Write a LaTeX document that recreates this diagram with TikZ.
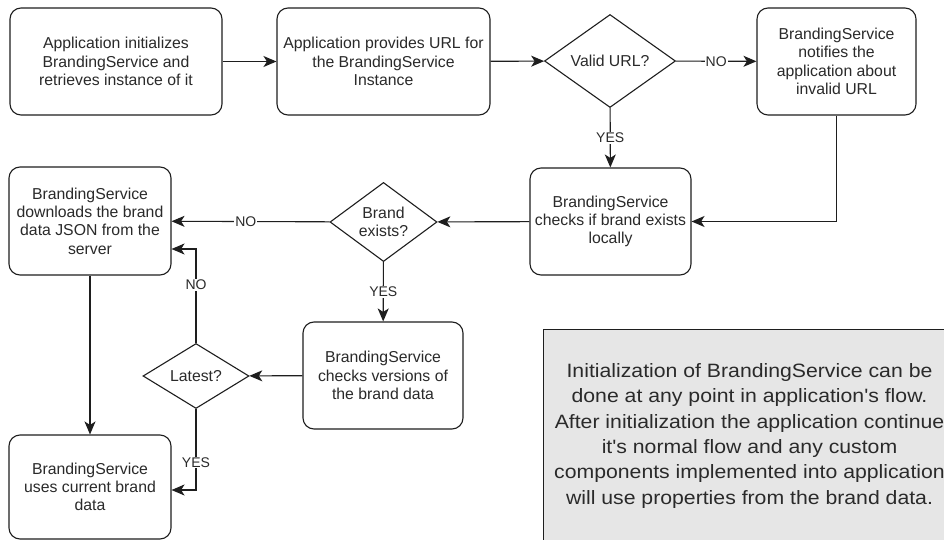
\documentclass[tikz,border=0pt]{standalone}
\usepackage{fontspec}
\setmainfont{Liberation Sans}
\newfontfamily\notefont[FakeStretch=1.1]{Liberation Sans}
\usetikzlibrary{shapes.geometric,arrows.meta}
\definecolor{ink}{HTML}{1E1E1E}
\definecolor{txt}{HTML}{2A2A2A}
\definecolor{notegray}{HTML}{E6E6E6}
\tikzset{
  stepbox/.style={draw=ink, line width=1.1pt, rounded corners=11pt, align=center,
    text=txt, font=\fontsize{15.8pt}{18.3pt}\selectfont, inner sep=0pt},
  decision/.style={draw=ink, line width=1.1pt, diamond, align=center, inner sep=0pt,
    text=txt, font=\fontsize{15.8pt}{18.3pt}\selectfont},
  flow/.style={draw=ink, line width=1.1pt, -{Stealth[length=13pt,width=11pt,inset=3.5pt]}},
  lbl/.style={fill=white, inner sep=1pt, text=txt, font=\fontsize{14pt}{16pt}\selectfont},
  notebox/.style={draw=ink, line width=1.1pt, fill=notegray},
}
\begin{document}
\begin{tikzpicture}[x=1pt,y=-1pt]
\clip (0,0) rectangle (944,540);
\useasboundingbox (0,0) rectangle (944,540);
\fill[white] (0,0) rectangle (944,540);

% nodes
\node[stepbox, minimum width=212pt, minimum height=107pt] (A) at (116,61.5)
  {Application initializes\\BrandingService and\\retrieves instance of it};
\node[stepbox, minimum width=213pt, minimum height=107pt] (B) at (383.5,61.5)
  {Application provides URL for\\the BrandingService\\Instance};
\node[decision, minimum width=131pt, minimum height=93pt] (V) at (610,61)
  {Valid URL?};
\node[stepbox, minimum width=159pt, minimum height=107pt] (C) at (836.5,61.5)
  {BrandingService\\notifies the\\application about\\invalid URL};
\node[stepbox, minimum width=161pt, minimum height=107pt] (D) at (610.5,221.5)
  {BrandingService\\checks if brand exists\\locally};
\node[decision, minimum width=107pt, minimum height=67pt] (BE) at (383.5,222)
  {Brand\\exists?};
\node[stepbox, minimum width=162pt, minimum height=108pt] (E) at (90,221)
  {BrandingService\\downloads the brand\\data JSON from the\\server};
\node[stepbox, minimum width=160pt, minimum height=107pt] (F) at (383,375.5)
  {BrandingService\\checks versions of\\the brand data};
\node[decision, minimum width=106pt, minimum height=65pt] (L) at (196,376)
  {Latest?};
\node[stepbox, minimum width=162pt, minimum height=104pt] (G) at (90,487)
  {BrandingService\\uses current brand\\data};

% note
\node[notebox, minimum width=420pt, minimum height=230pt, anchor=north west] (N) at (543,329) {};
\node[align=center, text=txt, font=\notefont\fontsize{19.3pt}{25.4pt}\selectfont] (NT) at (749.5,435.8)
  {Initialization of BrandingService can be\\done at any point in application's flow.\\After initialization the application continue\\it's normal flow and any custom\\components implemented into application\\will use properties from the brand data.};

% connectors
\draw[flow] (A) -- (B);
\draw[flow] (B) -- (V);
\draw[flow] (V) -- node[lbl] {NO} (C);
\draw[flow] (V) -- node[lbl] {YES} (D);
\draw[flow] (C.south) |- (D.east);
\draw[flow] (D) -- (BE);
\draw[flow] (BE) -- node[lbl, pos=0.53] {NO} (E);
\draw[flow] (BE) -- node[lbl] {YES} (F);
\draw[flow] (F) -- (L);
\draw[flow] (L.north) |- node[lbl, pos=0.31] {NO} ([yshift=-28pt]E.east);
\draw[flow] (L.south) |- node[lbl, pos=0.33] {YES} ([yshift=-3pt]G.east);
\draw[flow] (E) -- (G);
\end{tikzpicture}
\end{document}
